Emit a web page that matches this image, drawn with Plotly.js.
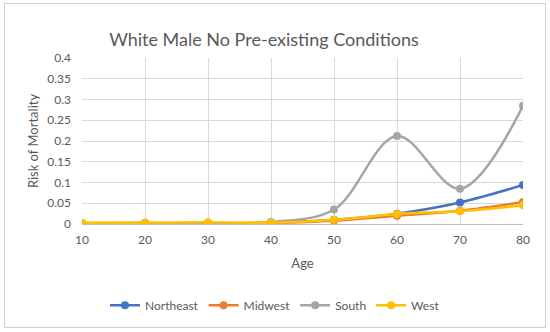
<!DOCTYPE html>
<html><head><meta charset="utf-8">
<script src="https://cdn.plot.ly/plotly-3.0.1.min.js"></script>
<style>
html,body{margin:0;padding:0;background:#fff;}
#wrap{position:relative;width:550px;height:332px;}
#chart{width:550px;height:332px;}
#frame{position:absolute;left:4px;top:3px;width:540px;height:323px;border:1px solid #d0d0d0;pointer-events:none;}
</style></head>
<body>
<div id="wrap"><div id="chart"></div><div id="frame"></div></div>
<script>
const ages = [10, 20, 30, 40, 50, 60, 70, 80];
const northeast = [0.001, 0.002, 0.002, 0.003, 0.010, 0.025, 0.052, 0.094];
const midwest   = [0.001, 0.002, 0.002, 0.003, 0.008, 0.020, 0.032, 0.053];
const south     = [0.002, 0.003, 0.000, 0.005, 0.035, 0.212, 0.085, 0.285];
const west      = [0.003, 0.003, 0.004, 0.003, 0.010, 0.024, 0.031, 0.045];
const yTicks = [0, 0.05, 0.1, 0.15, 0.2, 0.25, 0.3, 0.35, 0.4];
const yTickText = ["0", "0.05", "0.1", "0.15", "0.2", "0.25", "0.3", "0.35", "0.4"];

function tr(name, y, color) {
  return {x: ages, y: y, name: name, type: 'scatter', mode: 'lines+markers',
    line: {color: color, width: 2.5, shape: 'spline', smoothing: 1},
    marker: {color: color, size: 8}};
}
const data = [
  tr('Northeast', northeast, '#4472C4'),
  tr('Midwest', midwest, '#ED7D31'),
  tr('South', south, '#A5A5A5'),
  tr('West', west, '#FFC000')
];
const font = {family: 'Lato, "Open Sans", sans-serif', color: '#595959'};
const layout = {
  width: 550, height: 332,
  margin: {l: 82, r: 27, t: 58, b: 106},
  paper_bgcolor: '#fff', plot_bgcolor: '#fff',
  font: font,
  showlegend: true,
  title: {text: 'White Male No Pre-existing Conditions', x: 0.48, xanchor: 'center', y: 0.88, yanchor: 'middle',
    font: {family: font.family, size: 18, color: '#595959'}},
  xaxis: {range: [10, 80], tickvals: ages, ticktext: ages.map(String), showgrid: true, gridcolor: '#d9d9d9',
    zeroline: false, showline: false, ticks: '', ticklabelstandoff: 7, tickfont: {size: 12, color: '#595959'},
    title: {text: 'Age', font: {size: 13, color: '#595959'}, standoff: 12}},
  yaxis: {range: [0, 0.4], tickvals: yTicks, ticktext: yTickText, showgrid: true, gridcolor: '#d9d9d9',
    zeroline: true, zerolinecolor: '#bfbfbf', zerolinewidth: 1, showline: false, ticks: '',
    ticklabelstandoff: 10, tickfont: {size: 12, color: '#595959'},
    title: {text: 'Risk of Mortality', font: {size: 13, color: '#595959'}, standoff: 5}},
  legend: {orientation: 'h', x: 0.4376, xanchor: 'center', y: -0.49, yanchor: 'middle',
    font: {size: 12, color: '#595959'}, itemwidth: 30, traceorder: 'normal'}
};
Plotly.newPlot('chart', data, layout, {displayModeBar: false, staticPlot: true});
</script>
</body></html>
